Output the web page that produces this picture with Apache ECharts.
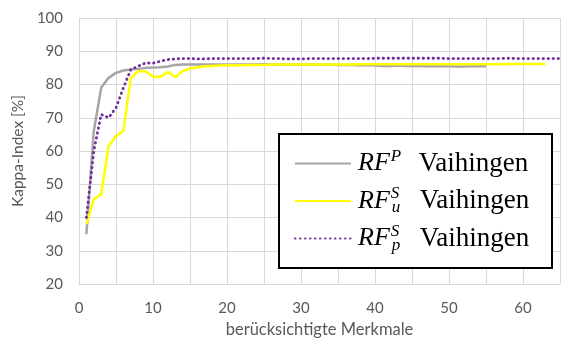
<!DOCTYPE html>
<html><head><meta charset="utf-8">
<script src="https://cdn.jsdelivr.net/npm/echarts@6/dist/echarts.min.js"></script>
<style>html,body{margin:0;padding:0;background:#fff}#c{width:563px;height:343px}</style>
</head><body><div id="c"></div>
<script>
var seriesNames = ['RF^P Vaihingen', 'RF_u^S Vaihingen', 'RF_p^S Vaihingen'];
var xTickLabels = [0, 10, 20, 30, 40, 50, 60];
var yTickLabels = [20, 30, 40, 50, 60, 70, 80, 90, 100];
// values for x = 1, 2, 3, ...
var greyValues = [35, 66, 79, 82, 83.5, 84.2, 84.5, 84.7, 85, 85.1,
  85.2, 85.4, 85.9, 86, 86, 86, 86, 86, 86, 86,
  86, 86, 86, 86, 86.1, 86, 86, 86, 86, 86,
  86, 86, 86, 86, 85.9, 85.9, 85.9, 85.8, 85.8, 85.7,
  85.6, 85.6, 85.7, 85.6, 85.6, 85.6, 85.5, 85.5, 85.5, 85.5,
  85.4, 85.4, 85.5, 85.5, 85.5];
var yellowValues = [38, 45.5, 47, 61.5, 64.5, 66, 82, 84, 84, 82.3,
  82.3, 83.8, 82.2, 84, 84.8, 85.2, 85.5, 85.6, 85.7, 85.8,
  85.8, 85.8, 85.9, 85.9, 85.9, 86, 86, 86, 86, 86,
  86, 86, 86, 86, 86, 86, 86, 86.1, 86.1, 86.1,
  86.1, 86.1, 86.1, 86.1, 86.1, 86.1, 86.1, 86.1, 86.1, 86.1,
  86.1, 86.1, 86.1, 86.1, 86.1, 86.1, 86.1, 86.2, 86.2, 86.2,
  86.2, 86.2, 86.2];
var purpleValues = [40, 60, 71, 70, 73, 79, 84.5, 85.5, 86.5, 86.4,
  87, 87.5, 87.7, 87.8, 87.8, 87.7, 87.7, 87.8, 87.8, 87.8,
  87.8, 87.8, 87.8, 87.8, 87.9, 87.8, 87.8, 87.7, 87.7, 87.7,
  87.8, 87.8, 87.8, 87.8, 87.8, 87.8, 87.8, 87.8, 87.8, 87.9,
  87.9, 87.9, 87.9, 87.9, 87.9, 87.9, 87.9, 87.9, 87.9, 87.8,
  87.8, 87.8, 87.8, 87.8, 87.8, 87.8, 87.8, 87.9, 87.8, 87.8,
  87.8, 87.8, 87.8, 87.8, 87.8];

function toPairs(arr) { return arr.map(function (v, i) { return [i + 1, v]; }); }

var sans = 'Lato';
var serif = 'Liberation Serif';
var chart = echarts.init(document.getElementById('c'));
chart.setOption({
  animation: false,
  backgroundColor: '#fff',
  grid: { left: 79, right: 3, top: 18, bottom: 59 },
  xAxis: {
    type: 'value', min: 0, max: 65, interval: 5,
    name: 'berücksichtigte Merkmale', nameLocation: 'middle', nameGap: 32,
    nameTextStyle: { color: '#595959', fontFamily: sans, fontSize: 16.5 },
    axisLine: { show: true, lineStyle: { color: '#d9d9d9', width: 1 } },
    axisTick: { show: false },
    axisLabel: { color: '#595959', fontFamily: sans, fontSize: 15, margin: 17,
      formatter: function (v) { return xTickLabels.indexOf(v) >= 0 ? String(v) : ''; } },
    splitLine: { show: true, lineStyle: { color: '#d9d9d9', width: 1 } }
  },
  yAxis: {
    type: 'value', min: 20, max: 100, interval: 10,
    name: 'Kappa-Index [%]', nameLocation: 'middle', nameGap: 45,
    nameTextStyle: { color: '#595959', fontFamily: sans, fontSize: 15.5 },
    axisLine: { show: true, lineStyle: { color: '#d9d9d9', width: 1 } },
    axisTick: { show: false },
    axisLabel: { color: '#595959', fontFamily: sans, fontSize: 15, margin: 16,
      formatter: function (v) { return yTickLabels.indexOf(v) >= 0 ? String(v) : ''; } },
    splitLine: { show: true, lineStyle: { color: '#d9d9d9', width: 1 } }
  },
  graphic: [{
    type: 'rect', left: 278, top: 133, z: 50,
    shape: { width: 273, height: 134 },
    style: { fill: '#fff', stroke: '#000', lineWidth: 2 }
  }],
  legend: {
    orient: 'vertical', left: 294, top: 148, padding: 0, itemGap: 6.5,
    itemWidth: 56, itemHeight: 14, z: 60,
    itemStyle: { opacity: 0 },
    data: seriesNames,
    formatter: function (name) {
      if (name === seriesNames[0]) return '{rf|RF}{sup|P}{v|Vaihingen}';
      if (name === seriesNames[1]) return '{rf|RF}{sup0|S}{sub|u}{v|Vaihingen}';
      return '{rf|RF}{sup0|S}{sub|p}{v|Vaihingen}';
    },
    textStyle: {
      color: '#000', fontFamily: serif, fontSize: 27, padding: [0, 0, 0, 2],
      rich: {
        rf: { fontFamily: serif, fontStyle: 'italic', fontSize: 26, lineHeight: 30, color: '#000' },
        sup: { fontFamily: serif, fontStyle: 'italic', fontSize: 17, lineHeight: 18, padding: [0, 0, 14, 1], width: 28, color: '#000' },
        sup0: { fontFamily: serif, fontStyle: 'italic', fontSize: 17, lineHeight: 18, padding: [0, 0, 14, 1], width: 0, color: '#000' },
        sub: { fontFamily: serif, fontStyle: 'italic', fontSize: 17, lineHeight: 18, padding: [14, 0, 0, 1], width: 28, color: '#000' },
        v: { fontFamily: serif, fontSize: 27, lineHeight: 30, color: '#000' }
      }
    }
  },
  series: [
    { name: seriesNames[0], type: 'line', data: toPairs(greyValues), symbol: 'none',
      lineStyle: { color: '#a5a5a5', width: 2.5 }, itemStyle: { color: '#a5a5a5' }, z: 3 },
    { name: seriesNames[1], type: 'line', data: toPairs(yellowValues), symbol: 'none',
      lineStyle: { color: '#ffff00', width: 2.5 }, itemStyle: { color: '#ffff00' }, z: 4 },
    { name: seriesNames[2], type: 'line', data: toPairs(purpleValues), symbol: 'none',
      lineStyle: { color: '#7030a0', width: 2.8, type: [0.5, 4.5], cap: 'round' }, itemStyle: { color: '#7030a0' }, z: 5 }
  ]
});
</script></body></html>
